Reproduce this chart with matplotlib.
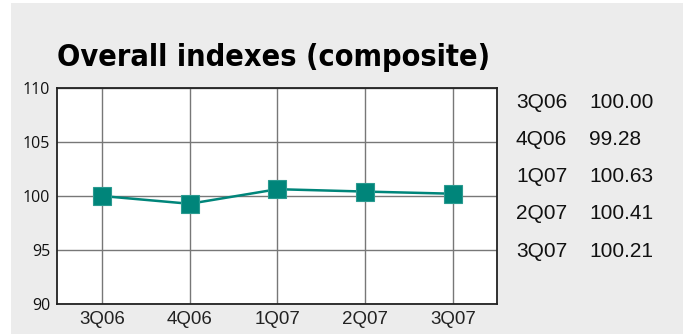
import matplotlib
matplotlib.use("Agg")
import matplotlib.pyplot as plt
from matplotlib.patches import Rectangle

categories = ["3Q06", "4Q06", "1Q07", "2Q07", "3Q07"]
values = [100.00, 99.28, 100.63, 100.41, 100.21]
value_labels = ["100.00", "99.28", "100.63", "100.41", "100.21"]
yticks = [90, 95, 100, 105, 110]
title = "Overall indexes (composite)"

W, H = 685, 334
fig = plt.figure(figsize=(W / 100, H / 100), dpi=100)
fig.patch.set_facecolor("white")
fig.patches.append(Rectangle((11 / W, 0), (683 - 11) / W, (334 - 3) / H,
                             transform=fig.transFigure, facecolor="#ececec",
                             edgecolor="none", zorder=-10))

ax = fig.add_axes([57 / W, 1 - 304 / H, (497 - 57) / W, (304 - 88) / H])
ax.set_zorder(1)
ax.set_facecolor("white")
x = list(range(len(categories)))
ax.plot(x, values, color="#00857a", lw=1.8, marker="s", markersize=13.5,
        markerfacecolor="#00857a", markeredgecolor="#2a9a90", markeredgewidth=0.8,
        zorder=3, clip_on=False)
ax.set_xlim(-0.51, 4.5)
ax.set_ylim(90, 110)
ax.set_yticks(yticks)
ax.set_xticks(x)
ax.set_xticklabels(categories, fontfamily="Liberation Sans", fontsize=13.5, color="#222222")
ax.set_yticklabels([str(v) for v in yticks], fontfamily="Open Sans", fontsize=11.5, color="#111111")
ax.grid(True, color="#777777", lw=1.0)
ax.set_axisbelow(True)
ax.tick_params(length=0, pad=5)
for s in ax.spines.values():
    s.set_color("#222222")
    s.set_linewidth(1.3)

fig.text(57 / W, 1 - 66 / H, title, fontfamily="DejaVu Sans", fontstretch="condensed",
         fontweight="heavy", fontsize=22, color="black", va="baseline")

for i, (c, v) in enumerate(zip(categories, value_labels)):
    yy = 1 - (102 + i * 37.3) / H
    fig.text(516 / W, yy, c, fontfamily="Liberation Sans", fontsize=15, color="#111111", va="center")
    fig.text(589 / W, yy, v, fontfamily="Liberation Sans", fontsize=15, color="#111111", va="center")

fig.savefig("out.png", dpi=100, facecolor=fig.get_facecolor())
